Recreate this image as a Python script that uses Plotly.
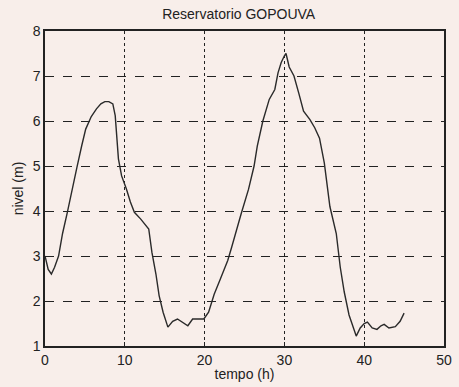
import plotly.graph_objects as go

tempo = [0, 0.4, 0.8, 1.2, 1.7, 2.2, 2.8, 3.4, 4.0, 4.6, 5.1, 5.8, 6.45, 7.0, 7.5, 8.0, 8.5, 8.8,
         9.2, 9.6, 10.2, 10.7, 11.2, 12.0, 12.6, 13.0, 13.4, 13.9, 14.3, 14.8, 15.4, 16.0, 16.6,
         17.2, 17.9, 18.5, 19.1, 19.9, 20.5, 21.2, 22.0, 22.9, 23.4, 24.0, 24.6, 25.5, 26.2, 26.6,
         27.3, 28.1, 28.8, 29.2, 29.6, 30.0, 30.2, 30.6, 31.2, 31.8, 32.4, 33.2, 33.8, 34.4, 35.0,
         35.7, 36.5, 37.0, 37.5, 38.1, 38.6, 39.0, 39.5, 40.0, 40.4, 41.0, 41.6, 42.1, 42.5, 43.1,
         43.9, 44.5, 45.0]
nivel = [3.0, 2.7, 2.6, 2.75, 3.0, 3.5, 3.97, 4.5, 4.97, 5.45, 5.82, 6.1, 6.27, 6.38, 6.43, 6.43,
         6.38, 6.12, 5.16, 4.78, 4.49, 4.2, 3.97, 3.82, 3.7, 3.6, 3.08, 2.6, 2.12, 1.75, 1.42, 1.55,
         1.6, 1.53, 1.45, 1.6, 1.6, 1.6, 1.75, 2.15, 2.5, 2.9, 3.2, 3.6, 3.95, 4.48, 5.0, 5.44, 6.0,
         6.48, 6.7, 7.07, 7.3, 7.45, 7.5, 7.2, 7.0, 6.62, 6.22, 6.03, 5.85, 5.62, 5.07, 4.1, 3.5,
         2.75, 2.2, 1.69, 1.4, 1.22, 1.4, 1.5, 1.53, 1.4, 1.37, 1.45, 1.48, 1.4, 1.43, 1.55, 1.73]

x_ticks = [0, 10, 20, 30, 40, 50]
y_ticks = [1, 2, 3, 4, 5, 6, 7, 8]

bg = "#f8eeea"
font = "Liberation Sans, Arial, sans-serif"

fig = go.Figure()
fig.add_trace(go.Scatter(x=tempo, y=nivel, mode="lines",
                         line=dict(color="#2a2a2a", width=1.4), showlegend=False))

fig.update_layout(
    width=459, height=387,
    margin=dict(l=45, r=15, t=31, b=41),
    paper_bgcolor=bg, plot_bgcolor=bg,
    font=dict(family=font, size=14, color="#222"),
    title=dict(text="Reservatorio GOPOUVA", x=0.52, xanchor="center",
               y=1 - 14 / 387, yref="container", yanchor="middle", automargin=False,
               font=dict(size=14, family=font, color="#222")),
)
fig.update_xaxes(range=[0, 50], tickvals=x_ticks, ticktext=[str(v) for v in x_ticks],
                 showgrid=True, gridcolor="#222", griddash="dot", gridwidth=1.2,
                 showline=True, linecolor="#222", linewidth=1.5, mirror=True,
                 ticks="inside", ticklen=4, tickcolor="#222", zeroline=False, automargin=False,
                 title=dict(text="tempo (h)", standoff=3, font=dict(size=14)))
fig.update_yaxes(range=[1, 8], tickvals=y_ticks, ticktext=[str(v) for v in y_ticks],
                 showgrid=True, gridcolor="#222", griddash="dash", gridwidth=1.2,
                 showline=True, linecolor="#222", linewidth=1.5, mirror=True,
                 ticks="inside", ticklen=4, tickcolor="#222", zeroline=False, automargin=False,
                 title=dict(text="nivel (m)", standoff=6, font=dict(size=14)))

fig.write_html("out.html", config={"displayModeBar": False},
               post_script="document.body.style.margin='0';document.body.style.background='%s';" % bg)
